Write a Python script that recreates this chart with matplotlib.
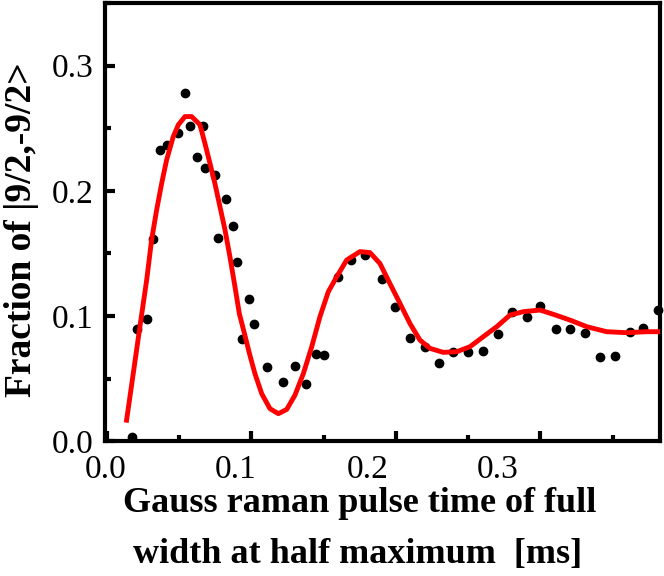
import matplotlib
matplotlib.use("Agg")
import matplotlib.pyplot as plt
from matplotlib.ticker import MultipleLocator

plt.rcParams['font.family'] = ['Liberation Serif', 'DejaVu Serif']

# measured points
pts_x = [0.0171, 0.0205, 0.0275, 0.032, 0.0367, 0.0415, 0.0494, 0.054, 0.0574, 0.062,
         0.0667, 0.0678, 0.0747, 0.077, 0.0824, 0.087, 0.0897, 0.0932, 0.0985, 0.102,
         0.1105, 0.122, 0.130, 0.138, 0.145, 0.150, 0.160, 0.169, 0.1785, 0.190,
         0.1993, 0.2097, 0.220, 0.230, 0.2397, 0.250, 0.260, 0.2708, 0.280, 0.2905,
         0.300, 0.3107, 0.3204, 0.3308, 0.3412, 0.3516, 0.362, 0.371, 0.3815]
pts_y = [0.003, 0.090, 0.098, 0.1616, 0.233, 0.237, 0.246, 0.278, 0.2515, 0.227,
         0.252, 0.218, 0.2128, 0.162, 0.1936, 0.172, 0.1435, 0.082, 0.1133, 0.0936,
         0.0594, 0.0474, 0.060, 0.046, 0.070, 0.069, 0.131, 0.1448, 0.1488, 0.130,
         0.1075, 0.0822, 0.0755, 0.0627, 0.0715, 0.0715, 0.072, 0.0853, 0.1035, 0.0995,
         0.108, 0.0893, 0.0893, 0.0867, 0.067, 0.068, 0.0875, 0.0907, 0.1048]

# fitted curve
fit_x = [0.0136, 0.0182, 0.0228, 0.0275, 0.0309, 0.0344, 0.0379, 0.0413, 0.0459, 0.0494,
         0.054, 0.0586, 0.0644, 0.0678, 0.0713, 0.0747, 0.0782, 0.0817, 0.0851, 0.0886,
         0.0916, 0.0955, 0.0985, 0.1024, 0.1071, 0.1128, 0.1186, 0.1244, 0.1301, 0.1359,
         0.1417, 0.1474, 0.1532, 0.159, 0.1659, 0.1751, 0.182, 0.1889, 0.1958, 0.2028,
         0.2097, 0.2166, 0.2235, 0.2327, 0.242, 0.2512, 0.2604, 0.2697, 0.2789, 0.2881,
         0.2997, 0.3089, 0.3204, 0.332, 0.3458, 0.3597, 0.3735, 0.3827]
fit_y = [0.0168, 0.054, 0.0914, 0.1288, 0.1608, 0.1848, 0.2062, 0.2248, 0.2434, 0.2528,
         0.2594, 0.2594, 0.2528, 0.238, 0.222, 0.206, 0.1874, 0.1688, 0.1474, 0.1234,
         0.102, 0.0845, 0.0705, 0.054, 0.038, 0.026, 0.022, 0.0254, 0.0368, 0.054,
         0.0755, 0.0995, 0.1195, 0.1314, 0.1448, 0.1515, 0.1507, 0.142, 0.126, 0.110,
         0.094, 0.0808, 0.0742, 0.071, 0.0715, 0.0755, 0.0835, 0.0915, 0.1008, 0.1035,
         0.1048, 0.1014, 0.0968, 0.0915, 0.0875, 0.0867, 0.0875, 0.0875]

xtick_labels = ['0.0', '0.1', '0.2', '0.3']
xtick_label_pos = [-0.0007, 0.0889, 0.1806, 0.2706]  # labels sit left of their ticks in the scan
ytick_vals = [0.0, 0.1, 0.2, 0.3]

fig = plt.figure(figsize=(6.64, 5.76), dpi=100)
ax = fig.add_axes([0.158, 0.234, 0.836, 0.7605])

ax.plot(pts_x, pts_y, 'o', color='black', ms=6, zorder=2, clip_on=False)
ax.plot(fit_x, fit_y, '-', color='#ff0000', lw=3.5, zorder=3, solid_joinstyle='round')

ax.set_xlim(-0.0014, 0.3827)
ax.set_ylim(0, 0.35)

ax.xaxis.set_major_locator(MultipleLocator(0.1))
ax.xaxis.set_minor_locator(MultipleLocator(0.05))
ax.set_yticks(ytick_vals)
ax.set_yticklabels(['%.1f' % v for v in ytick_vals])
ax.yaxis.set_minor_locator(MultipleLocator(0.05))
ax.set_xticklabels([])

ax.tick_params(which='both', direction='in', width=3, top=False, right=False)
ax.tick_params(which='major', length=7)
ax.tick_params(which='minor', length=4.5)
ax.tick_params(axis='y', labelsize=24, pad=8)
for s in ax.spines.values():
    s.set_linewidth(3)

tr = ax.get_xaxis_transform()
for lab, xp in zip(xtick_labels, xtick_label_pos):
    ax.text(xp, -0.085, lab, transform=tr, ha='center', va='baseline', fontsize=24)

fig.text(0.542, 0.111, 'Gauss raman pulse time of full', ha='center', va='baseline',
         fontsize=26, fontweight='bold')
fig.text(0.539, 0.0226, 'width at half maximum  [ms]', ha='center', va='baseline',
         fontsize=26, fontweight='bold')
fig.text(0.033, 0.602, 'Fraction of |9/2,-9/2>', rotation=90, ha='center', va='center',
         fontsize=27, fontweight='bold')

fig.savefig('out.png', dpi=100)
